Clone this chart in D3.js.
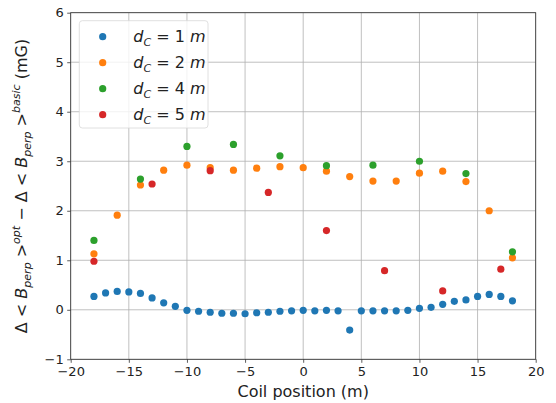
<!DOCTYPE html>
<html>
<head>
<meta charset="utf-8">
<script src="https://cdn.jsdelivr.net/npm/d3@7"></script>
<style>
  body { margin: 0; background: #fff; }
  svg { font-family: "DejaVu Sans", sans-serif; }
</style>
</head>
<body>
<div class="chart"></div>
<script>
// coil positions (m) and field differences (mG) for each coil distance
const pos1 = [-18,-17,-16,-15,-14,-13,-12,-11,-10,-9,-8,-7,-6,-5,-4,-3,-2,-1,0,1,2,3,4,5,6,7,8,9,10,11,12,13,14,15,16,17,18];
const val1 = [0.27,0.34,0.37,0.36,0.33,0.24,0.14,0.07,-0.01,-0.03,-0.05,-0.07,-0.07,-0.08,-0.06,-0.05,-0.03,-0.02,-0.01,-0.02,-0.01,-0.02,-0.41,-0.02,-0.02,-0.02,-0.02,-0.01,0.03,0.05,0.11,0.17,0.20,0.27,0.31,0.27,0.18];
const pos2 = [-18,-16,-14,-12,-10,-8,-6,-4,-2,0,2,4,6,8,10,12,14,16,18];
const val2 = [1.13,1.91,2.52,2.82,2.92,2.87,2.82,2.86,2.89,2.87,2.80,2.69,2.60,2.60,2.76,2.80,2.59,2.00,1.05];
const pos4 = [-18,-14,-10,-6,-2,2,6,10,14,18];
const val4 = [1.40,2.64,3.30,3.34,3.11,2.91,2.92,3.00,2.75,1.17];
const pos5 = [-18,-13,-8,-3,2,7,12,17];
const val5 = [0.98,2.54,2.81,2.37,1.60,0.79,0.38,0.82];
const seriesNames = ['1', '2', '4', '5'];
const xTicks = [-20,-15,-10,-5,0,5,10,15,20];
const yTicks = [-1,0,1,2,3,4,5,6];

const colors = ['#1f77b4', '#ff7f0e', '#2ca02c', '#d62728'];
const series = [[pos1, val1], [pos2, val2], [pos4, val4], [pos5, val5]];

const W = 556, H = 403;
const margin = {top: 12.7, right: 20.3, bottom: 43.7, left: 70.7};
const width = W - margin.left - margin.right;
const height = H - margin.top - margin.bottom;

const svg = d3.select('.chart').append('svg')
  .attr('width', W)
  .attr('height', H);

const g = svg.append('g')
  .attr('transform', `translate(${margin.left},${margin.top})`);

const x = d3.scaleLinear().domain([-20, 20]).range([0, width]);
const y = d3.scaleLinear().domain([-1, 6]).range([height, 0]);

// grid
g.append('g').selectAll('line')
  .data(xTicks).enter().append('line')
  .attr('x1', d => x(d)).attr('x2', d => x(d))
  .attr('y1', 0).attr('y2', height)
  .attr('stroke', '#b0b0b0').attr('stroke-width', 0.8);
g.append('g').selectAll('line')
  .data(yTicks).enter().append('line')
  .attr('y1', d => y(d)).attr('y2', d => y(d))
  .attr('x1', 0).attr('x2', width)
  .attr('stroke', '#b0b0b0').attr('stroke-width', 0.8);

// points
series.forEach((s, i) => {
  g.append('g').selectAll('circle')
    .data(s[0].map((p, j) => ({x: p, y: s[1][j]})))
    .enter().append('circle')
    .attr('cx', d => x(d.x))
    .attr('cy', d => y(d.y))
    .attr('r', 3.6)
    .attr('fill', colors[i]);
});

// axes
const fmt = d => d < 0 ? '\u2212' + Math.abs(d) : '' + d;
const xAxis = g.append('g')
  .attr('transform', `translate(0,${height})`)
  .call(d3.axisBottom(x).tickValues(xTicks).tickFormat(fmt).tickSize(3.5).tickPadding(3.5));
const yAxis = g.append('g')
  .call(d3.axisLeft(y).tickValues(yTicks).tickFormat(fmt).tickSize(3.5).tickPadding(3.5));
[xAxis, yAxis].forEach(a => {
  a.selectAll('text').attr('font-size', 13).attr('fill', '#222').attr('font-family', 'DejaVu Sans');
  a.selectAll('line').attr('stroke', '#333').attr('stroke-width', 0.8);
  a.select('.domain').remove();
});

// frame
g.append('rect')
  .attr('width', width).attr('height', height)
  .attr('fill', 'none').attr('stroke', '#333').attr('stroke-width', 0.8);

// axis labels
svg.append('text')
  .attr('x', margin.left + width / 2)
  .attr('y', H - 6)
  .attr('text-anchor', 'middle')
  .attr('font-size', 16)
  .attr('fill', '#222')
  .text('Coil position (m)');

const yl = svg.append('text')
  .attr('transform', `translate(27,${margin.top + height / 2}) rotate(-90)`)
  .attr('text-anchor', 'middle')
  .attr('font-size', 16)
  .attr('fill', '#222');
function bPart(sup) {
  yl.append('tspan').text('\u0394 < ');
  yl.append('tspan').attr('font-style', 'italic').text('B');
  yl.append('tspan').attr('font-style', 'italic').attr('font-size', 11).attr('dy', 4).text('perp');
  yl.append('tspan').attr('dy', -4).text(' >');
  yl.append('tspan').attr('font-style', 'italic').attr('font-size', 11).attr('dy', -7).text(sup);
  yl.append('tspan').attr('dy', 7).text('\u00a0');
}
bPart('opt');
yl.append('tspan').text('\u2212 ');
bPart('basic');
yl.append('tspan').text('(mG)');

// legend
const leg = svg.append('g').attr('transform', 'translate(79.3,20.7)');
leg.append('rect')
  .attr('width', 128.7).attr('height', 107.3)
  .attr('rx', 3).attr('ry', 3)
  .attr('fill', '#fff').attr('fill-opacity', 0.8)
  .attr('stroke', '#d8d8d8').attr('stroke-width', 0.8);
seriesNames.forEach((n, i) => {
  const row = leg.append('g').attr('transform', `translate(0,${16 + i * 26})`);
  row.append('circle').attr('cx', 23.4).attr('cy', 0).attr('r', 3.6).attr('fill', colors[i]);
  const t = row.append('text').attr('x', 54).attr('y', 5.5).attr('font-size', 16).attr('fill', '#222');
  t.append('tspan').attr('font-style', 'italic').text('d');
  t.append('tspan').attr('font-style', 'italic').attr('font-size', 11).attr('dy', 4).text('C');
  t.append('tspan').attr('dy', -4).text(' = ' + n + ' ');
  t.append('tspan').attr('font-style', 'italic').text('m');
});
</script>
</body>
</html>
